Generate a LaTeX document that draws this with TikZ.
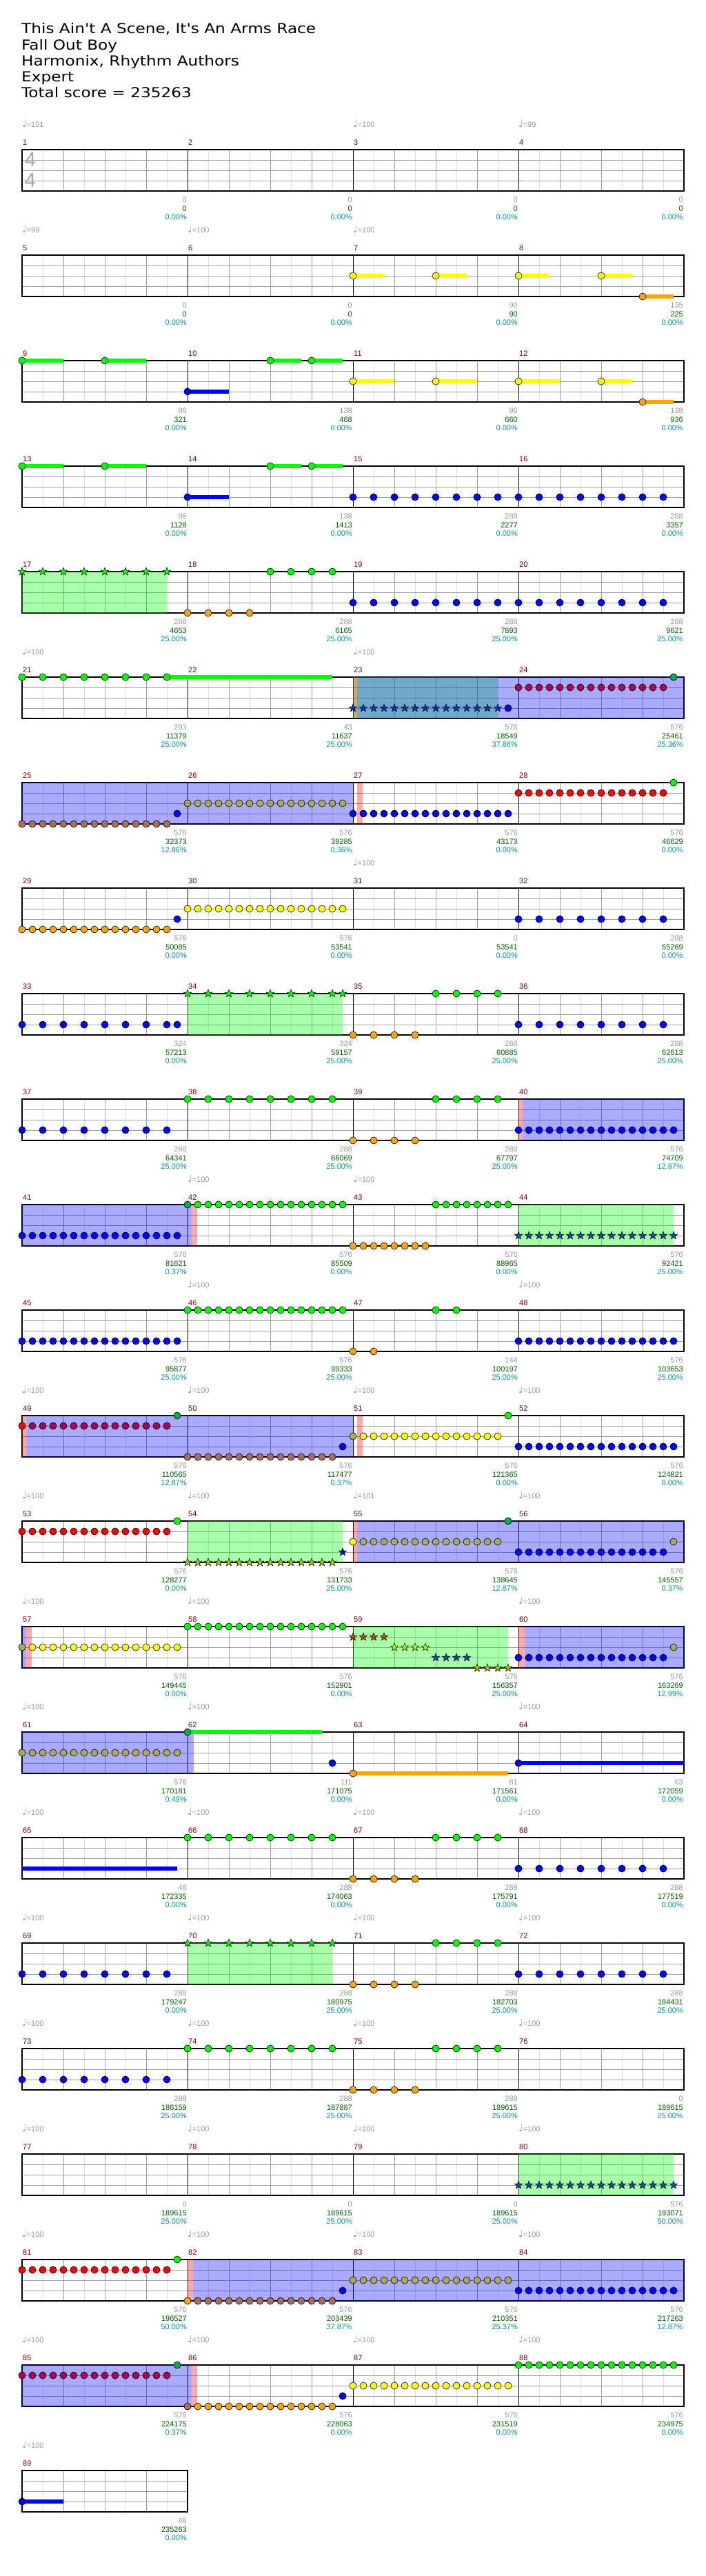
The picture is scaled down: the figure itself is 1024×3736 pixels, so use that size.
\documentclass[tikz,border=0pt]{standalone}
\usepackage{fontspec}
\setmainfont{Liberation Sans}
\newfontfamily\dejavu[Ligatures=TeXOff]{DejaVu Sans}
\newfontfamily\headfont[Ligatures=TeXOff,FakeStretch=1.16]{DejaVu Sans}
\usetikzlibrary{shapes.geometric}

% gem colours, plain and as seen under the overdrive / phrase shading
\definecolor{gemG}{RGB}{0,255,0}
\definecolor{gemR}{RGB}{255,0,0}
\definecolor{gemY}{RGB}{255,255,0}
\definecolor{gemB}{RGB}{0,0,255}
\definecolor{gemO}{RGB}{255,165,0}
\definecolor{bluG}{RGB}{0,170,85}
\definecolor{bluR}{RGB}{170,0,85}
\definecolor{bluY}{RGB}{170,170,85}
\definecolor{bluO}{RGB}{170,110,85}
\definecolor{grnR}{RGB}{170,85,0}
\definecolor{grnY}{RGB}{170,255,0}
\definecolor{grnB}{RGB}{0,85,170}
\definecolor{grnO}{RGB}{170,195,0}
\definecolor{tealB}{RGB}{0,57,198}
\definecolor{numred}{RGB}{128,0,0}
\definecolor{scoregreen}{RGB}{0,100,0}
\definecolor{pctcyan}{RGB}{0,150,150}

\tikzset{
  subline/.style={draw=black!13, line width=0.8pt},
  beatline/.style={draw=black!38, line width=1pt},
  laneline/.style={draw=black!38, line width=1pt},
  barline/.style={draw=black, line width=0.8pt},
  staffframe/.style={draw=black, line width=1.2pt},
  gem/.style={draw=black, line width=0.6pt},
  stargem/.style={star, star points=5, star point ratio=2.4, minimum size=12pt,
    inner sep=0pt, draw=black, line width=0.5pt},
  smalltext/.style={inner sep=0pt, font=\fontsize{11}{11}\selectfont},
  measnum/.style={smalltext, anchor=base west, text=numred},
  tempotext/.style={smalltext, anchor=base west, text=black!40},
  ptsnum/.style={smalltext, anchor=base east, text=black!40},
  scorenum/.style={ptsnum, text=scoregreen},
  pctnum/.style={ptsnum, text=pctcyan},
  titletext/.style={anchor=base west, inner sep=0pt, font=\headfont\fontsize{20}{22}\selectfont},
  timesig/.style={inner sep=0pt, text=black!35, font=\fontsize{29}{29}\selectfont},
}

% #1 first bar, #2 number of bars
\newcommand{\staffgrid}[2]{%
  \pgfmathtruncatemacro{\gw}{240*#2}%
  \fill[white] (0,0) rectangle (\gw,60);
  \foreach \x in {30,90,...,\gw} \draw[subline] (\x,0) -- (\x,60);
  \foreach \x in {60,120,...,\gw} \draw[beatline] (\x,0) -- (\x,60);
  \foreach \y in {15,30,45} \draw[laneline] (0,\y) -- (\gw,\y);
  \foreach \k in {1,...,#2} {
    \draw[barline] (240*\k,0) -- (240*\k,60);
    \pgfmathtruncatemacro{\mn}{#1+\k-1}
    \node[measnum] (bar\mn) at (240*\k-239,-7) {\mn};
  }
  \draw[staffframe] (0,0) rectangle (\gw,60);
}
% position in 16ths, lane, colour
\newcommand{\drawgem}[3]{\filldraw[gem, fill=#3] (15*#1,15*#2) circle (5.1);}
\newcommand{\drawstar}[3]{\node[stargem, fill=#3] (star#1-#2) at (15*#1,15*#2) {};}
% start, lane, end, colour
\newcommand{\drawtail}[4]{\fill[#4] (15*#1,15*#2-3.3) rectangle (15*#3,15*#2+3.3);}
\newcommand{\shadezone}[3]{\fill[#3, opacity=0.3333] (15*#1,0) rectangle (15*#2,60);}
\newcommand{\tempomark}[2]{\node[tempotext] (tempo#1) at (240*#1-240,-33)
  {{\dejavu\fontsize{14}{14}\selectfont ♩}=#2};}
\newcommand{\barscores}[2]{%
  \foreach \k/\g/\s/\p in {#2} {
    \pgfmathtruncatemacro{\mn}{#1+\k-1}
    \node[ptsnum] (pts\mn) at (240*\k-1,76) {\g};
    \node[scorenum] (score\mn) at (240*\k-1,89) {\s};
    \node[pctnum] (pct\mn) at (240*\k-1,101.5) {\p\%};
  }}

\begin{document}
\begin{tikzpicture}[x=1pt,y=-1pt]
\useasboundingbox[fill=white] (0,0) rectangle (1024,3736);

% Header
\node[titletext] (title) at (31,49) {This Ain't A Scene, It's An Arms Race};
\node[titletext] (artist) at (31,72.3) {Fall Out Boy};
\node[titletext] (charter) at (31,95.3) {Harmonix, Rhythm Authors};
\node[titletext] (level) at (31,118.3) {Expert};
\node[titletext] (total) at (31,141.3) {Total score = 235263};

% Bars 1-4
\begin{scope}[shift={(32,217)}]
\staffgrid{1}{4}
\node[timesig] (sigtop) at (12,15) {4};
\node[timesig] (sigbot) at (12,45) {4};
\tempomark{1}{101} \tempomark{3}{100} \tempomark{4}{99}
\barscores{1}{1/0/0/0.00, 2/0/0/0.00, 3/0/0/0.00, 4/0/0/0.00}
\end{scope}

% Bars 5-8
\begin{scope}[shift={(32,370)}]
\staffgrid{5}{4}
\tempomark{1}{99} \tempomark{2}{100} \tempomark{3}{100}
\foreach \a/\b in {32/35,40/43,48/51,56/59} {\drawtail{\a}{2}{\b}{gemY} \drawgem{\a}{2}{gemY}}
\drawtail{60}{4}{63}{gemO} \drawgem{60}{4}{gemO}
\barscores{5}{1/0/0/0.00, 2/0/0/0.00, 3/90/90/0.00, 4/135/225/0.00}
\end{scope}

% Bars 9-12
\begin{scope}[shift={(32,523)}]
\staffgrid{9}{4}
\foreach \a/\b in {0/4,8/12,24/27,28/31} {\drawtail{\a}{0}{\b}{gemG} \drawgem{\a}{0}{gemG}}
\drawtail{16}{3}{20}{gemB} \drawgem{16}{3}{gemB}
\foreach \a/\b in {32/36,40/44,48/52,56/59} {\drawtail{\a}{2}{\b}{gemY} \drawgem{\a}{2}{gemY}}
\drawtail{60}{4}{63}{gemO} \drawgem{60}{4}{gemO}
\barscores{9}{1/96/321/0.00, 2/138/468/0.00, 3/96/660/0.00, 4/138/936/0.00}
\end{scope}

% Bars 13-16
\begin{scope}[shift={(32,676)}]
\staffgrid{13}{4}
\foreach \a/\b in {0/4,8/12,24/27,28/31} {\drawtail{\a}{0}{\b}{gemG} \drawgem{\a}{0}{gemG}}
\drawtail{16}{3}{20}{gemB} \drawgem{16}{3}{gemB}
\foreach \i in {32,34,...,62} \drawgem{\i}{3}{gemB};
\barscores{13}{1/96/1128/0.00, 2/138/1413/0.00, 3/288/2277/0.00, 4/288/3357/0.00}
\end{scope}

% Bars 17-20
\begin{scope}[shift={(32,829)}]
\staffgrid{17}{4}
\shadezone{0}{14}{green}
\foreach \i in {0,2,...,14} \drawstar{\i}{0}{gemG};
\foreach \i in {16,18,20,22} \drawgem{\i}{4}{gemO};
\foreach \i in {24,26,28,30} \drawgem{\i}{0}{gemG};
\foreach \i in {32,34,...,62} \drawgem{\i}{3}{gemB};
\barscores{17}{1/288/4653/25.00, 2/288/6165/25.00, 3/288/7893/25.00, 4/288/9621/25.00}
\end{scope}

% Bars 21-24
\begin{scope}[shift={(32,982)}]
\staffgrid{21}{4}
\tempomark{1}{100} \tempomark{3}{100}
\shadezone{32}{46}{green} \shadezone{32}{32.4}{red} \shadezone{32.4}{64}{blue}
\drawtail{14}{0}{30}{gemG}
\foreach \i in {0,2,...,14} \drawgem{\i}{0}{gemG};
\foreach \i in {32,...,46} \drawstar{\i}{3}{tealB};
\drawgem{47}{3}{gemB}
\foreach \i in {48,...,62} \drawgem{\i}{1}{bluR};
\drawgem{63}{0}{bluG}
\barscores{21}{1/293/11379/25.00, 2/43/11637/25.00, 3/576/18549/37.86, 4/576/25461/25.36}
\end{scope}

% Bars 25-28
\begin{scope}[shift={(32,1135)}]
\staffgrid{25}{4}
\shadezone{0}{32}{blue} \shadezone{32.4}{32.9}{red}
\foreach \i in {0,...,14} \drawgem{\i}{4}{bluO};
\drawgem{15}{3}{gemB}
\foreach \i in {16,...,31} \drawgem{\i}{2}{bluY};
\foreach \i in {32,...,47} \drawgem{\i}{3}{gemB};
\foreach \i in {48,...,62} \drawgem{\i}{1}{gemR};
\drawgem{63}{0}{gemG}
\barscores{25}{1/576/32373/12.86, 2/576/39285/0.36, 3/576/43173/0.00, 4/576/46629/0.00}
\end{scope}

% Bars 29-32
\begin{scope}[shift={(32,1288)}]
\staffgrid{29}{4}
\tempomark{3}{100}
\foreach \i in {0,...,14} \drawgem{\i}{4}{gemO};
\drawgem{15}{3}{gemB}
\foreach \i in {16,...,31} \drawgem{\i}{2}{gemY};
\foreach \i in {48,50,...,62} \drawgem{\i}{3}{gemB};
\barscores{29}{1/576/50085/0.00, 2/576/53541/0.00, 3/0/53541/0.00, 4/288/55269/0.00}
\end{scope}

% Bars 33-36
\begin{scope}[shift={(32,1441)}]
\staffgrid{33}{4}
\shadezone{16}{31}{green}
\foreach \i in {0,2,...,14} \drawgem{\i}{3}{gemB};
\drawgem{15}{3}{gemB}
\foreach \i in {16,18,...,30} \drawstar{\i}{0}{gemG};
\drawstar{31}{0}{gemG}
\foreach \i in {32,34,36,38} \drawgem{\i}{4}{gemO};
\foreach \i in {40,42,44,46} \drawgem{\i}{0}{gemG};
\foreach \i in {48,50,...,62} \drawgem{\i}{3}{gemB};
\barscores{33}{1/324/57213/0.00, 2/324/59157/25.00, 3/288/60885/25.00, 4/288/62613/25.00}
\end{scope}

% Bars 37-40
\begin{scope}[shift={(32,1594)}]
\staffgrid{37}{4}
\shadezone{48}{48.43}{red} \shadezone{48.43}{64}{blue}
\foreach \i in {0,2,...,14} \drawgem{\i}{3}{gemB};
\foreach \i in {16,18,...,30} \drawgem{\i}{0}{gemG};
\foreach \i in {32,34,36,38} \drawgem{\i}{4}{gemO};
\foreach \i in {40,42,44,46} \drawgem{\i}{0}{gemG};
\foreach \i in {48,...,63} \drawgem{\i}{3}{gemB};
\barscores{37}{1/288/64341/25.00, 2/288/66069/25.00, 3/288/67797/25.00, 4/576/74709/12.87}
\end{scope}

% Bars 41-44
\begin{scope}[shift={(32,1747)}]
\staffgrid{41}{4}
\tempomark{2}{100} \tempomark{3}{100}
\shadezone{0}{16.4}{blue} \shadezone{16.4}{16.9}{red} \shadezone{48}{63}{green}
\foreach \i in {0,...,15} \drawgem{\i}{3}{gemB};
\drawgem{16}{0}{bluG}
\foreach \i in {17,...,31} \drawgem{\i}{0}{gemG};
\foreach \i in {32,...,39} \drawgem{\i}{4}{gemO};
\foreach \i in {40,...,47} \drawgem{\i}{0}{gemG};
\foreach \i in {48,...,63} \drawstar{\i}{3}{grnB};
\barscores{41}{1/576/81621/0.37, 2/576/85509/0.00, 3/576/88965/0.00, 4/576/92421/25.00}
\end{scope}

% Bars 45-48
\begin{scope}[shift={(32,1900)}]
\staffgrid{45}{4}
\tempomark{2}{100} \tempomark{4}{100}
\foreach \i in {0,...,15} \drawgem{\i}{3}{gemB};
\foreach \i in {16,...,31} \drawgem{\i}{0}{gemG};
\foreach \i in {32,34} \drawgem{\i}{4}{gemO};
\foreach \i in {40,42} \drawgem{\i}{0}{gemG};
\foreach \i in {48,...,63} \drawgem{\i}{3}{gemB};
\barscores{45}{1/576/95877/25.00, 2/576/99333/25.00, 3/144/100197/25.00, 4/576/103653/25.00}
\end{scope}

% Bars 49-52
\begin{scope}[shift={(32,2053)}]
\staffgrid{49}{4}
\foreach \k in {1,...,4} {\tempomark{\k}{100}}
\shadezone{0}{0.43}{red} \shadezone{0.43}{32}{blue} \shadezone{32.4}{32.9}{red}
\drawgem{0}{1}{gemR}
\foreach \i in {1,...,14} \drawgem{\i}{1}{bluR};
\drawgem{15}{0}{bluG}
\foreach \i in {16,...,30} \drawgem{\i}{4}{bluO};
\drawgem{31}{3}{gemB}
\drawgem{32}{2}{bluY}
\foreach \i in {33,...,46} \drawgem{\i}{2}{gemY};
\drawgem{47}{0}{gemG}
\foreach \i in {48,...,63} \drawgem{\i}{3}{gemB};
\barscores{49}{1/576/110565/12.87, 2/576/117477/0.37, 3/576/121365/0.00, 4/576/124821/0.00}
\end{scope}

% Bars 53-56
\begin{scope}[shift={(32,2206)}]
\staffgrid{53}{4}
\tempomark{1}{100} \tempomark{2}{100} \tempomark{3}{101} \tempomark{4}{100}
\shadezone{16}{31}{green} \shadezone{32}{32.43}{red} \shadezone{32.43}{64}{blue}
\foreach \i in {0,...,14} \drawgem{\i}{1}{gemR};
\drawgem{15}{0}{gemG}
\foreach \i in {16,...,30} \drawstar{\i}{4}{grnO};
\drawstar{31}{3}{gemB}
\drawgem{32}{2}{gemY}
\foreach \i in {33,...,46} \drawgem{\i}{2}{bluY};
\drawgem{47}{0}{bluG}
\foreach \i in {48,...,62} \drawgem{\i}{3}{gemB};
\drawgem{63}{2}{bluY}
\barscores{53}{1/576/128277/0.00, 2/576/131733/25.00, 3/576/138645/12.87, 4/576/145557/0.37}
\end{scope}

% Bars 57-60
\begin{scope}[shift={(32,2359)}]
\staffgrid{57}{4}
\tempomark{1}{100} \tempomark{2}{100} \tempomark{4}{100}
\shadezone{0}{0.43}{blue} \shadezone{0.43}{0.96}{red} \shadezone{32}{47}{green}
\shadezone{48}{48.57}{red} \shadezone{48.57}{64}{blue}
\drawgem{0}{2}{bluY}
\foreach \i in {1,...,15} \drawgem{\i}{2}{gemY};
\foreach \i in {16,...,31} \drawgem{\i}{0}{gemG};
\foreach \i in {32,...,35} \drawstar{\i}{1}{grnR};
\foreach \i in {36,...,39} \drawstar{\i}{2}{grnY};
\foreach \i in {40,...,43} \drawstar{\i}{3}{grnB};
\foreach \i in {44,...,47} \drawstar{\i}{4}{grnO};
\foreach \i in {48,...,62} \drawgem{\i}{3}{gemB};
\drawgem{63}{2}{bluY}
\barscores{57}{1/576/149445/0.00, 2/576/152901/0.00, 3/576/156357/25.00, 4/576/163269/12.99}
\end{scope}

% Bars 61-64
\begin{scope}[shift={(32,2512)}]
\staffgrid{61}{4}
\tempomark{1}{100} \tempomark{2}{100} \tempomark{4}{100}
\shadezone{0}{16.6}{blue}
\foreach \i in {0,...,15} \drawgem{\i}{2}{bluY};
\drawtail{16}{0}{29}{gemG} \drawgem{16}{0}{bluG}
\drawgem{30}{3}{gemB}
\drawtail{32}{4}{47}{gemO} \drawgem{32}{4}{gemO}
\drawtail{48}{3}{64}{gemB} \drawgem{48}{3}{gemB}
\barscores{61}{1/576/170181/0.49, 2/111/171075/0.00, 3/81/171561/0.00, 4/83/172059/0.00}
\end{scope}

% Bars 65-68
\begin{scope}[shift={(32,2665)}]
\staffgrid{65}{4}
\foreach \k in {1,...,4} {\tempomark{\k}{100}}
\drawtail{0}{3}{15}{gemB}
\foreach \i in {16,18,...,30} \drawgem{\i}{0}{gemG};
\foreach \i in {32,34,36,38} \drawgem{\i}{4}{gemO};
\foreach \i in {40,42,44,46} \drawgem{\i}{0}{gemG};
\foreach \i in {48,50,...,62} \drawgem{\i}{3}{gemB};
\barscores{65}{1/46/172335/0.00, 2/288/174063/0.00, 3/288/175791/0.00, 4/288/177519/0.00}
\end{scope}

% Bars 69-72
\begin{scope}[shift={(32,2818)}]
\staffgrid{69}{4}
\foreach \k in {1,...,4} {\tempomark{\k}{100}}
\shadezone{16}{30}{green}
\foreach \i in {0,2,...,14} \drawgem{\i}{3}{gemB};
\foreach \i in {16,18,...,30} \drawstar{\i}{0}{gemG};
\foreach \i in {32,34,36,38} \drawgem{\i}{4}{gemO};
\foreach \i in {40,42,44,46} \drawgem{\i}{0}{gemG};
\foreach \i in {48,50,...,62} \drawgem{\i}{3}{gemB};
\barscores{69}{1/288/179247/0.00, 2/288/180975/25.00, 3/288/182703/25.00, 4/288/184431/25.00}
\end{scope}

% Bars 73-76
\begin{scope}[shift={(32,2971)}]
\staffgrid{73}{4}
\foreach \k in {1,...,4} {\tempomark{\k}{100}}
\foreach \i in {0,2,...,14} \drawgem{\i}{3}{gemB};
\foreach \i in {16,18,...,30} \drawgem{\i}{0}{gemG};
\foreach \i in {32,34,36,38} \drawgem{\i}{4}{gemO};
\foreach \i in {40,42,44,46} \drawgem{\i}{0}{gemG};
\barscores{73}{1/288/186159/25.00, 2/288/187887/25.00, 3/288/189615/25.00, 4/0/189615/25.00}
\end{scope}

% Bars 77-80
\begin{scope}[shift={(32,3124)}]
\staffgrid{77}{4}
\foreach \k in {1,...,4} {\tempomark{\k}{100}}
\shadezone{48}{63}{green}
\foreach \i in {48,...,63} \drawstar{\i}{3}{grnB};
\barscores{77}{1/0/189615/25.00, 2/0/189615/25.00, 3/0/189615/25.00, 4/576/193071/50.00}
\end{scope}

% Bars 81-84
\begin{scope}[shift={(32,3277)}]
\staffgrid{81}{4}
\foreach \k in {1,...,4} {\tempomark{\k}{100}}
\shadezone{16}{16.5}{red} \shadezone{16.5}{64}{blue}
\foreach \i in {0,...,14} \drawgem{\i}{1}{gemR};
\drawgem{15}{0}{gemG}
\drawgem{16}{4}{gemO}
\foreach \i in {17,...,30} \drawgem{\i}{4}{bluO};
\drawgem{31}{3}{gemB}
\foreach \i in {32,...,47} \drawgem{\i}{2}{bluY};
\foreach \i in {48,...,63} \drawgem{\i}{3}{gemB};
\barscores{81}{1/576/196527/50.00, 2/576/203439/37.87, 3/576/210351/25.37, 4/576/217263/12.87}
\end{scope}

% Bars 85-88
\begin{scope}[shift={(32,3430)}]
\staffgrid{85}{4}
\foreach \k in {1,...,4} {\tempomark{\k}{100}}
\shadezone{0}{16.4}{blue} \shadezone{16.4}{16.9}{red}
\foreach \i in {0,...,14} \drawgem{\i}{1}{bluR};
\drawgem{15}{0}{bluG}
\drawgem{16}{4}{bluO}
\foreach \i in {17,...,30} \drawgem{\i}{4}{gemO};
\drawgem{31}{3}{gemB}
\foreach \i in {32,...,47} \drawgem{\i}{2}{gemY};
\foreach \i in {48,...,63} \drawgem{\i}{0}{gemG};
\barscores{85}{1/576/224175/0.37, 2/576/228063/0.00, 3/576/231519/0.00, 4/576/234975/0.00}
\end{scope}

% Bar 89
\begin{scope}[shift={(32,3583)}]
\staffgrid{89}{1}
\tempomark{1}{100}
\drawtail{0}{3}{4}{gemB} \drawgem{0}{3}{gemB}
\barscores{89}{1/48/235263/0.00}
\end{scope}

\end{tikzpicture}
\end{document}
